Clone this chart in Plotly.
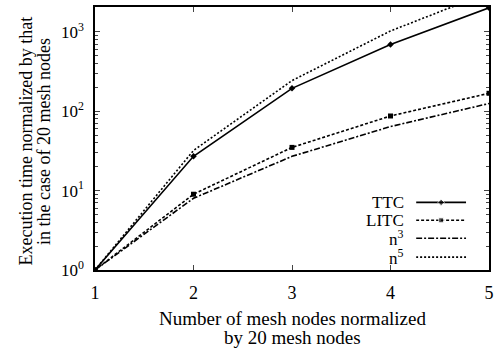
import plotly.graph_objects as go

x = [1, 2, 3, 4, 5]
ttc = [1, 27, 194, 690, 2000]
litc = [1, 9, 35, 87, 168]
n3 = [1, 8, 27, 64, 125]
n5 = [1, 32, 243, 1024, 3125]
names = ["TTC", "LITC", "n<sup>3</sup>", "n<sup>5</sup>"]
ytickvals = [1, 10, 100, 1000]
yticktext = ["10<sup>0</sup>", "10<sup>1</sup>", "10<sup>2</sup>", "10<sup>3</sup>"]
xtitle = ["Number of mesh nodes normalized", "by 20 mesh nodes"]
ytitle = ["Execution time normalized by that", "in the case of 20 mesh nodes"]

FONT = "Liberation Serif, Times New Roman, serif"
styles = [
    dict(dash="solid", symbol="diamond", msize=5),
    dict(dash="3px,2px", symbol="square", msize=5),
    dict(dash="6px,2px,2px,2px", symbol=None, msize=0),
    dict(dash="2px,2px", symbol=None, msize=0),
]
series = [ttc, litc, n3, n5]

fig = go.Figure()
for s, st in zip(series, styles):
    fig.add_trace(go.Scatter(
        x=x, y=s, mode="lines+markers" if st["symbol"] else "lines",
        line=dict(color="black", width=1.6, dash=st["dash"]),
        marker=dict(symbol=st["symbol"] or "circle", size=st["msize"], color="black"),
        showlegend=False))

# manual legend (line sample to the right of the text)
leg_y = [0.257, 0.189, 0.121, 0.049]
for i, (nm, st) in enumerate(zip(names, styles)):
    fig.add_trace(go.Scatter(
        x=[0.0, 0.5, 1.0], y=[leg_y[i]] * 3, xaxis="x2", yaxis="y2",
        mode="lines+markers" if st["symbol"] else "lines",
        line=dict(color="black", width=1.6, dash=st["dash"]),
        marker=dict(symbol=st["symbol"] or "circle", size=[0, st["msize"], 0], color="black"),
        showlegend=False, hoverinfo="skip"))
    fig.add_annotation(x=0.79, y=leg_y[i], xref="paper", yref="paper", text=nm,
                       showarrow=False, xanchor="right", yanchor="middle",
                       font=dict(family=FONT, size=17, color="black"))

# axis titles (two tightly spaced lines each)
for txt, yy in zip(xtitle, [-0.185, -0.258]):
    fig.add_annotation(x=0.5, y=yy, xref="paper", yref="paper", text=txt, showarrow=False,
                       xanchor="center", yanchor="middle",
                       font=dict(family=FONT, size=19, color="black"))
for txt, xx in zip(ytitle, [-0.174, -0.130]):
    fig.add_annotation(x=xx, y=0.49, xref="paper", yref="paper", text=txt, showarrow=False,
                       textangle=-90, xanchor="center", yanchor="middle",
                       font=dict(family=FONT, size=18, color="black"))

fig.update_layout(
    width=499, height=348,
    margin=dict(l=95, r=9, t=5, b=78),
    paper_bgcolor="white", plot_bgcolor="rgba(0,0,0,0)",
    font=dict(family=FONT, size=17, color="black"),
    xaxis=dict(range=[1, 5], tickvals=x, ticks="inside", ticklen=5, mirror="ticks",
               showline=True, linecolor="black", linewidth=1.5, showgrid=False, zeroline=False,
               ticklabelstandoff=6, tickfont=dict(size=18)),
    yaxis=dict(type="log", range=[0, 3.312], tickvals=ytickvals, ticktext=yticktext,
               ticks="inside", ticklen=5, mirror="ticks",
               minor=dict(ticks="inside", ticklen=3,
                          tickvals=[v * k for v in [1, 10, 100, 1000] for k in range(2, 10)]),
               showline=True, linecolor="black", linewidth=1.5, showgrid=False, zeroline=False,
               ticklabelstandoff=6, tickfont=dict(size=17)),
    xaxis2=dict(domain=[0.815, 0.942], range=[0, 1], visible=False, anchor="y2"),
    yaxis2=dict(domain=[0, 1], range=[0, 1], visible=False, anchor="x2"),
)
fig.write_html("out.html")
